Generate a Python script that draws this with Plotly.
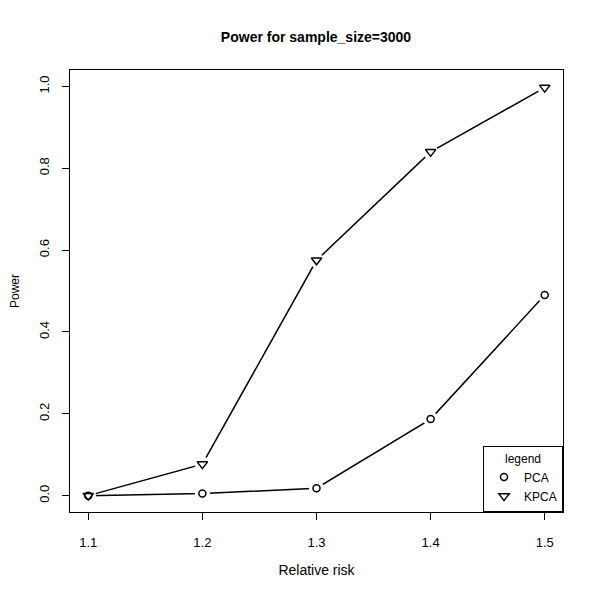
import plotly.graph_objects as go

relative_risk = [1.1, 1.2, 1.3, 1.4, 1.5]
power_pca = [0.0, 0.005, 0.018, 0.187, 0.49]
power_kpca = [0.0, 0.077, 0.575, 0.84, 0.997]
x_ticks = [1.1, 1.2, 1.3, 1.4, 1.5]
y_ticks = [0.0, 0.2, 0.4, 0.6, 0.8, 1.0]
y_tick_labels = ["0.0", "0.2", "0.4", "0.6", "0.8", "1.0"]

FONT = "Liberation Sans, Arial, Helvetica, sans-serif"

fig = go.Figure()
# lines
for ys in (power_pca, power_kpca):
    fig.add_trace(go.Scatter(x=relative_risk, y=ys, mode="lines",
                             line=dict(color="black", width=1.5),
                             showlegend=False, hoverinfo="skip"))
# white gaps around points (R type="b")
for ys in (power_pca, power_kpca):
    fig.add_trace(go.Scatter(x=relative_risk, y=ys, mode="markers",
                             marker=dict(symbol="circle", size=15, color="white",
                                         line=dict(width=0)),
                             showlegend=False, hoverinfo="skip"))
fig.add_trace(go.Scatter(x=relative_risk, y=power_pca, mode="markers", name="PCA",
                         marker=dict(symbol="circle-open", size=7, color="black",
                                     line=dict(width=1.5, color="black"))))
fig.add_trace(go.Scatter(x=relative_risk, y=power_kpca, mode="markers", name="KPCA",
                         marker=dict(symbol="triangle-down-open", size=9, color="black",
                                     line=dict(width=1.5, color="black"))))

axis_common = dict(showgrid=False, zeroline=False, showline=True, linecolor="black",
                   linewidth=1, mirror=True, ticks="outside", ticklen=7,
                   tickcolor="black", tickwidth=1, automargin=False)

fig.update_layout(
    width=600, height=600,
    paper_bgcolor="white", plot_bgcolor="white",
    margin=dict(l=62, r=45, t=62, b=96),
    font=dict(family=FONT, size=12, color="black"),
    title=dict(text="<b>Power for sample_size=3000</b>", x=(316 - 8) / 600, xanchor="center",
               y=1 - 29 / 600, yanchor="middle",
               font=dict(family=FONT, size=14, color="black")),
    xaxis=dict(range=[1.084, 1.516], tickvals=x_ticks,
               ticktext=[f"{v:.1f}" for v in x_ticks],
               ticklabelstandoff=11,
               tickfont=dict(family=FONT, size=13, color="black"),
               title=dict(text="Relative risk", standoff=16,
                          font=dict(family=FONT, size=14)),
               **axis_common),
    yaxis=dict(range=[-0.04, 1.04], tickvals=y_ticks, ticktext=y_tick_labels,
               tickangle=-90, ticklabelstandoff=8,
               tickfont=dict(family=FONT, size=13, color="black"),
               title=dict(text="Power", standoff=18,
                          font=dict(family=FONT, size=12)),
               **axis_common),
    legend=dict(x=1, xanchor="right", y=0, yanchor="bottom",
                bordercolor="black", borderwidth=1, bgcolor="white",
                title=dict(text="legend", side="top center", font=dict(size=12)),
                font=dict(family=FONT, size=12), itemwidth=30,
                tracegroupgap=0),
)

fig.write_html("out.html")
